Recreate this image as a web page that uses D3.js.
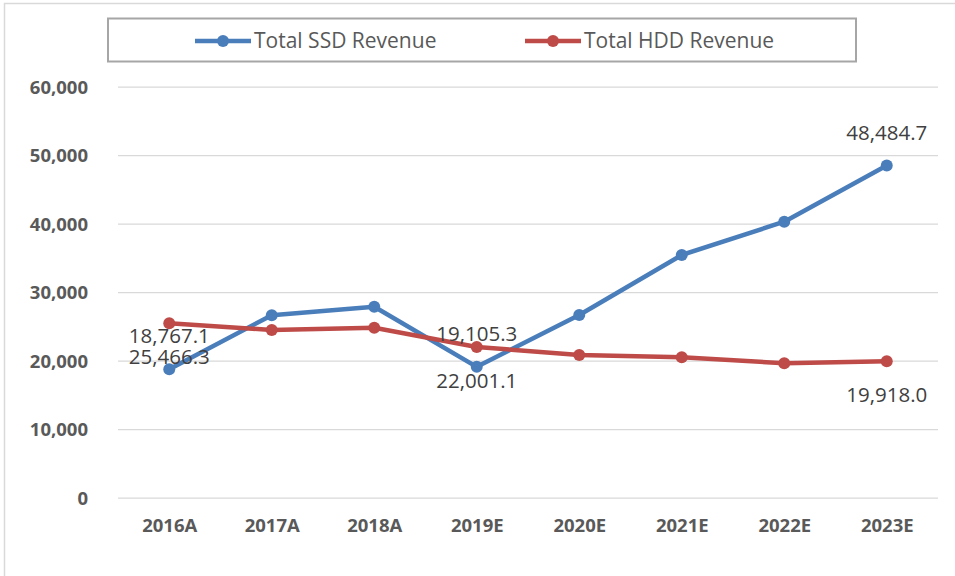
<!DOCTYPE html>
<html>
<head>
<meta charset="utf-8">
<script src="https://cdn.jsdelivr.net/npm/d3@7"></script>
<style>
  body { margin: 0; background: #fff; }
  svg text { font-family: "Open Sans", "DejaVu Sans", sans-serif; }
  .tick-label { font-weight: bold; font-size: 18.5px; fill: #595959; }
  .data-label { font-size: 20.5px; fill: #404040; }
  .legend-text { font-size: 21px; fill: #595959; }
</style>
</head>
<body>
<svg width="955" height="576"></svg>
<script>
// **** data ****
const years = ['2016A', '2017A', '2018A', '2019E', '2020E', '2021E', '2022E', '2023E'];
const ssdRevenue = [18767.1, 26650, 27880, 19105.3, 26670, 35430, 40290, 48484.7];
const hddRevenue = [25466.3, 24480, 24820, 22001.1, 20830, 20500, 19620, 19918.0];
const yTicks = [0, 10000, 20000, 30000, 40000, 50000, 60000];
const labelledYears = ['2016A', '2019E', '2023E'];

const seriesList = [
  { name: 'Total SSD Revenue', values: ssdRevenue, color: '#4a7ebb', labelDy: -33 },
  { name: 'Total HDD Revenue', values: hddRevenue, color: '#be4b48', labelDy: 34 }
];

// **** scales ****
var xScale = d3.scalePoint()
    .domain(years).range([118, 938]).padding(0.5);

var yScale = d3.scaleLinear()
    .domain([0, 60000]).range([497.7, 86.7]);

var svg = d3.select('svg');

// outer chart border
svg.append('rect')
    .attr('x', 4.5).attr('y', 3.5)
    .attr('width', 1000).attr('height', 1000)
    .style('fill', 'none')
    .style('stroke', '#d9d9d9')
    .style('stroke-width', 1.5);

// gridlines + y labels
svg.append('g').attr('class', 'y axis')
    .attr('transform', 'translate(118,0)')
    .call(d3.axisLeft(yScale).tickValues(yTicks).tickSize(-820).tickPadding(30)
        .tickFormat(d3.format(',')))
    .call(g => g.select('.domain').remove())
    .call(g => g.selectAll('.tick line').style('stroke', '#d9d9d9').style('stroke-width', 1.3))
    .call(g => g.selectAll('.tick text').attr('class', 'tick-label').attr('dy', '0.35em'));

// x labels
svg.append('g').attr('class', 'x axis')
    .attr('transform', 'translate(0,497.7)')
    .call(d3.axisBottom(xScale).tickSize(0).tickPadding(21))
    .call(g => g.select('.domain').remove())
    .call(g => g.selectAll('.tick text').attr('class', 'tick-label'));

// lines, markers, labels
const line = d3.line()
    .x((d, i) => xScale(years[i]))
    .y(d => yScale(d));

seriesList.forEach((s) => {
    svg.append('path')
        .datum(s.values)
        .attr('d', line)
        .style('fill', 'none')
        .style('stroke', s.color)
        .style('stroke-width', 4.5)
        .style('stroke-linejoin', 'round');

    svg.append('g').selectAll('circle')
        .data(s.values)
        .enter()
        .append('circle')
        .attr('cx', (d, i) => xScale(years[i]))
        .attr('cy', d => yScale(d))
        .attr('r', 6)
        .style('fill', s.color);
});

// data labels (drawn after lines so they sit on top)
seriesList.forEach((s) => {
    svg.append('g').selectAll('text')
        .data(s.values.map((v, i) => ({ year: years[i], v: v })).filter(d => labelledYears.includes(d.year)))
        .enter()
        .append('text')
        .attr('class', 'data-label')
        .attr('x', d => xScale(d.year))
        .attr('y', d => yScale(d.v) + s.labelDy)
        .attr('dy', '0.35em')
        .attr('text-anchor', 'middle')
        .text(d => d3.format(',.1f')(d.v));
});

// legend
svg.append('rect')
    .attr('x', 108).attr('y', 18.5)
    .attr('width', 748).attr('height', 43)
    .style('fill', '#fff')
    .style('stroke', '#a6a6a6')
    .style('stroke-width', 2);

const legendX = [195, 525];
seriesList.forEach((s, i) => {
    const g = svg.append('g')
        .attr('transform', `translate(${legendX[i]}, 41)`);
    g.append('line')
        .attr('x1', 0).attr('x2', 56)
        .style('stroke', s.color)
        .style('stroke-width', 4.5);
    g.append('circle')
        .attr('cx', 28).attr('r', 6)
        .style('fill', s.color);
    g.append('text')
        .attr('class', 'legend-text')
        .attr('x', 59).attr('dy', '0.35em')
        .text(s.name);
});
</script>
</body>
</html>
